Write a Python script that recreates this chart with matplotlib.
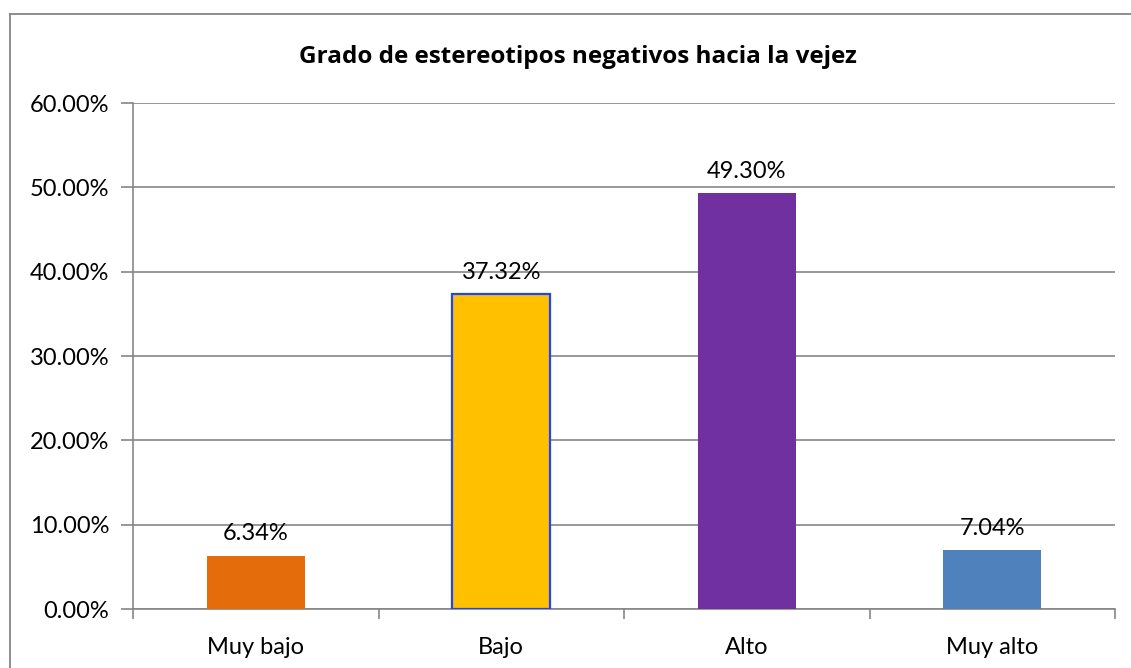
import matplotlib.pyplot as plt
from matplotlib.lines import Line2D
from matplotlib.ticker import PercentFormatter

# datos
categorias = ['Muy bajo', 'Bajo', 'Alto', 'Muy alto']
porcentajes = [6.34, 37.32, 49.30, 7.04]
colores = ['#E46C0A', '#FFC000', '#7030A0', '#4F81BD']
bordes = ['#E46C0A', '#1F45FC', '#7030A0', '#4F81BD']
y_ticks = [0, 10, 20, 30, 40, 50, 60]

plt.rcParams['font.family'] = ['Lato', 'DejaVu Sans']

fig = plt.figure(figsize=(11.31, 6.68), dpi=100)
ax = fig.add_axes([0.1176, 0.0883, 0.8683, 0.7575])

x = list(range(len(categorias)))
barras = ax.bar(x, porcentajes, width=0.40, color=colores, edgecolor=bordes,
                linewidth=[0, 1.6, 0, 0], zorder=3)

for xi, v in zip(x, porcentajes):
    ax.annotate(f'{v:.2f}%', (xi, v), xytext=(0, 8), textcoords='offset points',
                ha='center', va='bottom', fontsize=17, color='black', zorder=4)

ax.set_xlim(-0.5, len(categorias) - 0.5)
ax.set_ylim(0, 60)
ax.set_yticks(y_ticks)
ax.yaxis.set_major_formatter(PercentFormatter(decimals=2))
ax.set_xticks(x)
ax.set_xticklabels(categorias)
ax.set_xticks([i - 0.5 for i in range(len(categorias) + 1)], minor=True)
ax.tick_params(axis='x', which='major', length=0, pad=20, labelsize=17)
ax.tick_params(axis='x', which='minor', length=7, color='#868686', width=1.2)
ax.tick_params(axis='y', length=9, color='#868686', width=1.2, labelsize=17, pad=8)

ax.grid(axis='y', color='#868686', linewidth=1.2, zorder=0)
for s in ['top', 'right']:
    ax.spines[s].set_visible(False)
for s in ['left', 'bottom']:
    ax.spines[s].set_color('#868686')
    ax.spines[s].set_linewidth(1.2)

fig.text(0.511, 0.915, 'Grado de estereotipos negativos hacia la vejez',
         ha='center', va='center', fontsize=17.5, fontweight='bold',
         family=['Open Sans', 'DejaVu Sans'])

# marco del grafico
fig.add_artist(Line2D([0.0088, 0.0088], [0.0, 0.979], color='#868686', lw=1.3))
fig.add_artist(Line2D([0.0088, 1.0], [0.979, 0.979], color='#868686', lw=1.3))

fig.savefig('out.png', dpi=100)
